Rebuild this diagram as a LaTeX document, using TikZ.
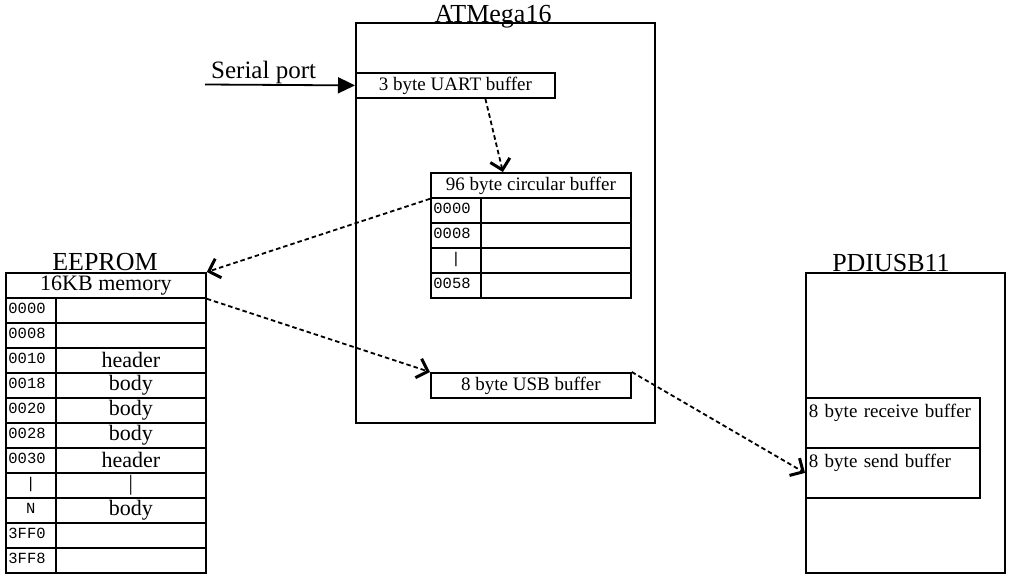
\documentclass[tikz,border=0pt]{standalone}
\usepackage{fontspec}
\setmainfont{Liberation Serif}
\setmonofont{Liberation Mono}
\usetikzlibrary{arrows.meta}
\tikzstyle{chip} = [rectangle, 
draw=black, 
line width=1.8pt, 
anchor=north west, 
inner sep=0pt]
\tikzstyle{title} = [anchor=base, 
inner sep=0pt, 
font=\fontsize{26}{30}\selectfont]
\tikzstyle{buffer} = [rectangle, 
draw=black, 
line width=1.8pt, 
anchor=north west, 
minimum width=200pt, 
minimum height=25pt, 
inner sep=0pt, 
font=\fontsize{19}{22}\selectfont]
\tikzstyle{memhead} = [rectangle, 
draw=black, 
line width=1.8pt, 
anchor=north west, 
minimum width=200pt, 
minimum height=25pt, 
inner sep=0pt, 
font=\fontsize{22}{26}\selectfont]
\tikzstyle{addr} = [rectangle, 
draw=black, 
line width=1.8pt, 
anchor=north west, 
minimum width=50pt, 
text width=45pt, 
inner xsep=2.5pt, 
inner ysep=0pt, 
text height=16pt, 
text depth=9pt, 
align=left, 
font=\ttfamily\fontsize{15.5}{18}\selectfont]
\tikzstyle{cell} = [rectangle, 
draw=black, 
line width=1.8pt, 
anchor=north west, 
minimum width=150pt, 
minimum height=25pt, 
inner sep=0pt, 
font=\fontsize{22}{26}\selectfont]
\tikzstyle{usbbuf} = [rectangle, 
draw=black, 
line width=1.8pt, 
anchor=north west, 
text width=168pt, 
inner xsep=3pt, 
inner ysep=0pt, 
text height=20pt, 
text depth=30pt, 
align=left, 
font=\fontsize{19}{22}\selectfont]
\tikzstyle{arrow} = [line width=1.8pt, 
dash pattern=on 4.5pt off 3pt, 
-{Straight Barb[length=10pt,width=20pt,line width=3pt]}]
\tikzstyle{wire} = [line width=1.8pt, 
-{Triangle[length=17pt,width=16pt]}]
\begin{document}
\begin{tikzpicture}[x=1pt, y=-1pt]
			\useasboundingbox (0,0) rectangle (1013,579);
			
			% ATMega16
			\node (atmega) [chip, minimum width=299pt, minimum height=400pt] at (355,22) {};
			\node (atmegatitle) [title] at (493,22) {ATMega16};
			\node (uart) [buffer, minimum width=199pt] at (355,72) {3 byte UART buffer};
			\node (circ) [buffer] at (430,172) {96 byte circular buffer};
			\node (ca0) [addr] at (430,197) {0000};
			\node (cc0) [cell] at (480,197) {};
			\node (ca1) [addr] at (430,222) {0008};
			\node (cc1) [cell] at (480,222) {};
			\node (ca2) [addr, align=center] at (430,247) {|};
			\node (cc2) [cell] at (480,247) {};
			\node (ca3) [addr] at (430,272) {0058};
			\node (cc3) [cell] at (480,272) {};
			\node (usb) [buffer] at (430,372) {8 byte USB buffer};
			
			% serial port
			\coordinate (port) at (205,84.5);
			\node (serial) [anchor=base west, inner sep=0pt, font=\fontsize{25}{30}\selectfont] at (211,78) {Serial port};
			
			% EEPROM
			\node (eepromtitle) [title] at (105,270) {EEPROM};
			\node (mem) [memhead] at (5,272) {16KB memory};
			\node (a0) [addr] at (5,297) {0000};
			\node (c0) [cell] at (55,297) {};
			\node (a1) [addr] at (5,322) {0008};
			\node (c1) [cell] at (55,322) {};
			\node (a2) [addr] at (5,347) {0010};
			\node (c2) [cell] at (55,347) {header};
			\node (a3) [addr] at (5,372) {0018};
			\node (c3) [cell] at (55,372) {body};
			\node (a4) [addr] at (5,397) {0020};
			\node (c4) [cell] at (55,397) {body};
			\node (a5) [addr] at (5,422) {0028};
			\node (c5) [cell] at (55,422) {body};
			\node (a6) [addr] at (5,447) {0030};
			\node (c6) [cell] at (55,447) {header};
			\node (a7) [addr, align=center] at (5,472) {|};
			\node (c7) [cell] at (55,472) {|};
			\node (a8) [addr, align=center] at (5,497) {N};
			\node (c8) [cell] at (55,497) {body};
			\node (a9) [addr] at (5,522) {3FF0};
			\node (c9) [cell] at (55,522) {};
			\node (a10) [addr] at (5,547) {3FF8};
			\node (c10) [cell] at (55,547) {};
			
			% PDIUSB11
			\node (pdiusb) [chip, minimum width=199pt, minimum height=300pt] at (805,272) {};
			\node (pdiusbtitle) [title] at (891,271) {PDIUSB11};
			\node (receive) [usbbuf] at (805,397) {8 byte receive buffer};
			\node (send) [usbbuf] at (805,447) {8 byte send buffer};
			
			\draw [wire] (port) -- (uart.west);
			\draw [arrow] ([xshift=30pt]uart.south) -- ([xshift=-28pt]circ.north);
			\draw [arrow] (circ.south west) -- (mem.north east);
			\draw [arrow] (mem.south east) -- (usb.north west);
			\draw [arrow] (usb.north east) -- (send.west);
			
\end{tikzpicture}
\end{document}
